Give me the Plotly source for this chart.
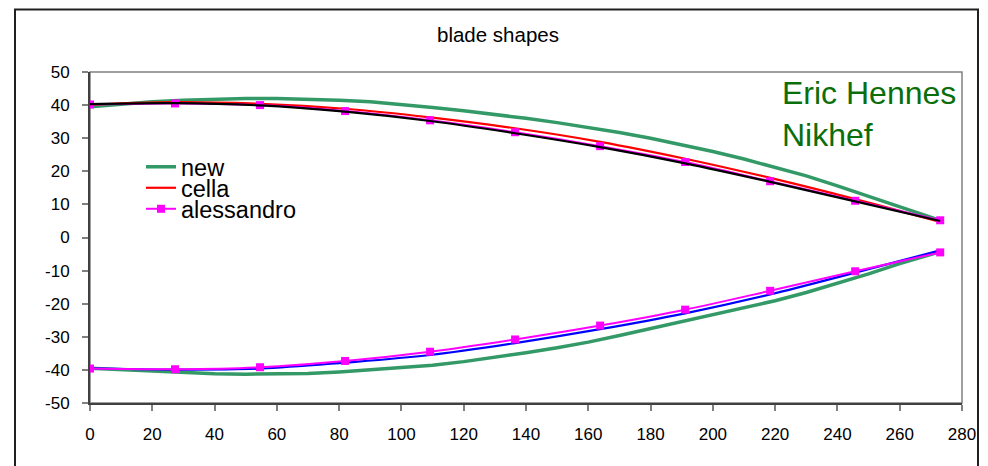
import plotly.graph_objects as go

# ---- data ----
new_x = [0, 10, 20, 30, 40, 50, 60, 70, 80, 90, 100, 110, 120, 130, 140, 150,
         160, 170, 180, 190, 200, 210, 220, 230, 240, 250, 260, 273]
new_upper = [39.5, 40.3, 41.0, 41.5, 41.8, 42.0, 42.0, 41.8, 41.5, 41.0, 40.2, 39.3,
             38.3, 37.2, 36.0, 34.7, 33.3, 31.7, 30.0, 28.0, 26.0, 23.7, 21.2, 18.6,
             15.6, 12.5, 9.2, 5.2]
new_lower = [-39.5, -39.9, -40.5, -40.9, -41.2, -41.3, -41.3, -41.1, -40.6, -40.0,
             -39.4, -38.6, -37.5, -36.2, -34.8, -33.3, -31.6, -29.6, -27.5, -25.5,
             -23.5, -21.4, -19.1, -16.6, -13.9, -11.0, -7.9, -4.3]

pts_x = [0, 27.3, 54.6, 81.9, 109.2, 136.5, 163.8, 191.1, 218.4, 245.7, 273]
cella_upper = [40.1, 40.9, 40.4, 38.9, 36.3, 33.0, 28.9, 23.8, 18.0, 11.6, 4.7]
black_upper = [40.3, 40.6, 39.9, 38.0, 35.2, 31.5, 27.3, 22.4, 16.8, 10.9, 5.0]
blue_lower = [-39.5, -39.9, -39.6, -37.8, -35.5, -31.9, -27.7, -22.9, -17.2, -10.6, -3.9]
aless_upper = [40.2, 40.5, 40.0, 38.2, 35.4, 31.8, 27.6, 22.8, 17.0, 11.1, 5.2]
aless_lower = [-39.6, -39.8, -39.2, -37.3, -34.5, -30.8, -26.6, -21.8, -16.1, -10.2, -4.5]

x_ticks = list(range(0, 281, 20))
y_ticks = list(range(-50, 51, 10))

FONT = "Arial, Liberation Sans, sans-serif"
GREEN = "#339966"

# page has an 8px body margin: figure pixel = reference pixel - 8
OFF = 8
W, H = 980, 458
L, R, T, B = 82, 26, 64, 63
PW = W - L - R
PH = H - T - B


def px_x(p):
    return (p - OFF - L) / PW


def px_y(p):
    return (H - B - (p - OFF)) / PH


fig = go.Figure()
fig.add_trace(go.Scatter(x=new_x, y=new_upper, mode="lines", name="new",
                         line=dict(color=GREEN, width=3.5), legend="legend"))
fig.add_trace(go.Scatter(x=new_x, y=new_lower, mode="lines", name="new",
                         line=dict(color=GREEN, width=3.5), showlegend=False))
fig.add_trace(go.Scatter(x=pts_x, y=cella_upper, mode="lines", name="cella",
                         line=dict(color="#FF0000", width=2.2, shape="spline"),
                         legend="legend2"))
fig.add_trace(go.Scatter(x=pts_x, y=blue_lower, mode="lines", name="cella lower",
                         line=dict(color="#0000FF", width=2.2, shape="spline"),
                         showlegend=False))
fig.add_trace(go.Scatter(x=pts_x, y=aless_upper, mode="lines+markers", name="alessandro",
                         line=dict(color="#FF00FF", width=2, shape="spline"),
                         marker=dict(symbol="square", size=8, color="#FF00FF"),
                         legend="legend3"))
fig.add_trace(go.Scatter(x=pts_x, y=aless_lower, mode="lines+markers", name="alessandro",
                         line=dict(color="#FF00FF", width=2, shape="spline"),
                         marker=dict(symbol="square", size=8, color="#FF00FF"),
                         showlegend=False))
fig.add_trace(go.Scatter(x=pts_x, y=black_upper, mode="lines", name="fit",
                         line=dict(color="#000000", width=2.2, shape="spline"),
                         showlegend=False))

legend_common = dict(font=dict(family=FONT, size=23.5, color="#000000"),
                     bgcolor="rgba(0,0,0,0)", borderwidth=0,
                     xanchor="left", yanchor="middle", tracegroupgap=0)

fig.update_layout(
    width=W, height=H,
    margin=dict(l=L, r=R, t=T, b=B),
    paper_bgcolor="white", plot_bgcolor="white",
    font=dict(family=FONT, size=16, color="#000000"),
    title=dict(text="blade shapes", x=(498 - OFF) / W, xref="container", xanchor="center",
               y=1 - (35 - OFF) / H, yref="container", yanchor="middle",
               font=dict(family=FONT, size=20.5, color="#000000")),
    legend=dict(x=px_x(141), y=px_y(167), **legend_common),
    legend2=dict(x=px_x(141), y=px_y(188), **legend_common),
    legend3=dict(x=px_x(141), y=px_y(209), **legend_common),
    xaxis=dict(range=[0, 280], tickvals=x_ticks, ticktext=[str(v) for v in x_ticks],
               showgrid=False, zeroline=False, showline=True, linecolor="#404040",
               linewidth=2, ticks="outside", ticklen=6, tickcolor="#808080", tickwidth=1.5,
               ticklabelstandoff=9, tickfont=dict(family=FONT, size=17, color="#000000")),
    yaxis=dict(range=[-50, 50], tickvals=y_ticks, ticktext=[str(v) for v in y_ticks],
               showgrid=False, zeroline=False, showline=True, linecolor="#404040",
               linewidth=2, ticks="outside", ticklen=6, tickcolor="#808080", tickwidth=1.5,
               ticklabelstandoff=9, tickfont=dict(family=FONT, size=17, color="#000000")),
    shapes=[
        dict(type="rect", xref="paper", yref="paper", x0=0, y0=0, x1=1, y1=1,
             line=dict(color="#808080", width=1.5), layer="below"),
        dict(type="rect", xref="paper", yref="paper",
             x0=px_x(15), x1=px_x(978), y0=px_y(490), y1=px_y(9.5),
             line=dict(color="#202020", width=2), layer="below"),
    ],
    annotations=[
        dict(text="Eric Hennes<br>Nikhef", xref="paper", yref="paper",
             x=px_x(780), y=px_y(114), xanchor="left", yanchor="middle",
             align="left", showarrow=False,
             font=dict(family=FONT, size=32, color="#0A6E0A")),
    ],
)

fig.write_html("out.html")
